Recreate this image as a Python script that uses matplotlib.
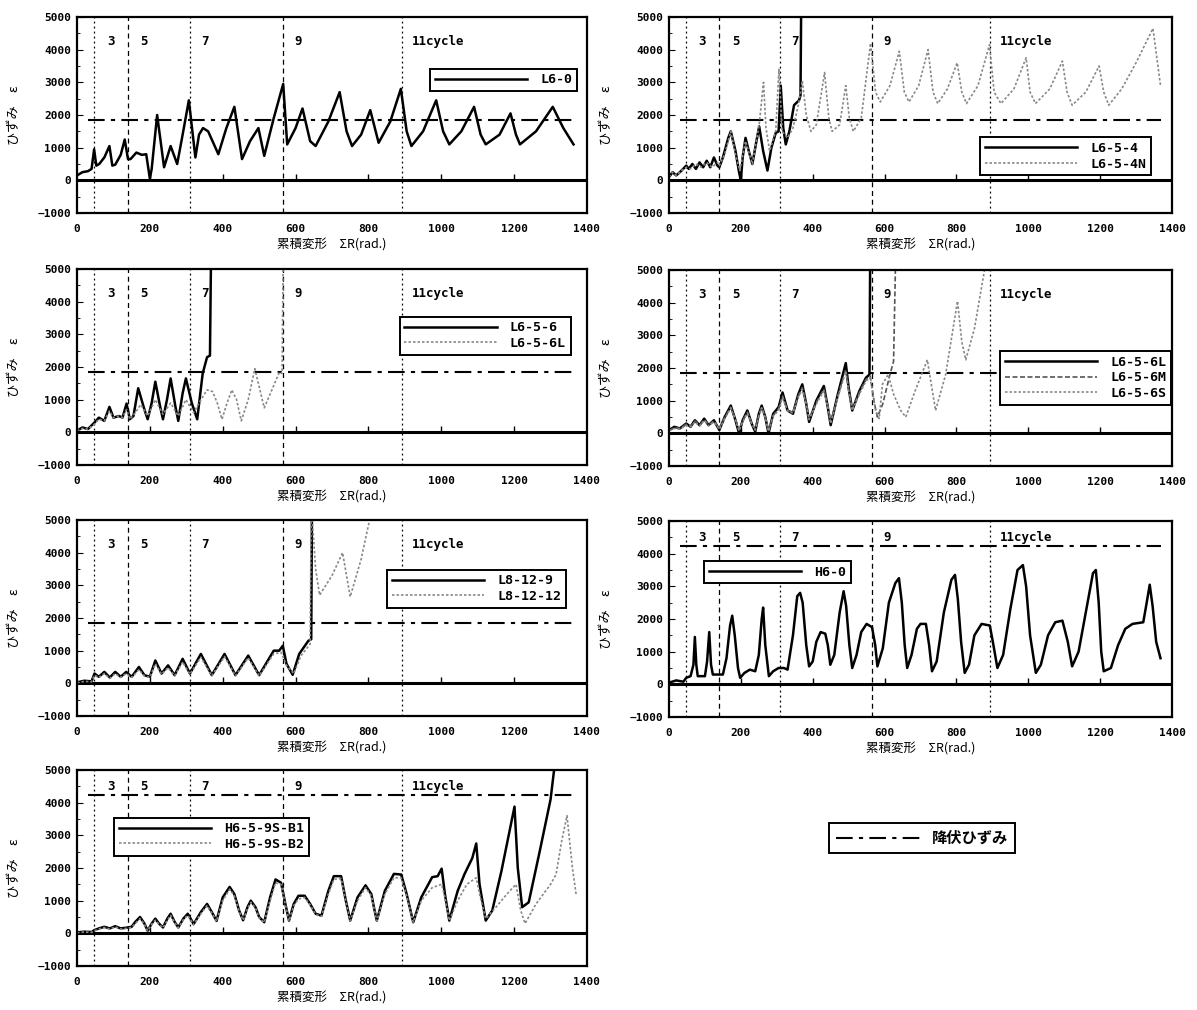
import matplotlib
matplotlib.use('Agg')
import matplotlib.pyplot as plt
from matplotlib.lines import Line2D

plt.rcParams['font.family'] = ['DejaVu Sans Mono', 'Noto Sans CJK JP']
plt.rcParams['font.weight'] = 'bold'

# cycle boundaries (cumulative deformation) and labels
cycle_bounds = [48, 140, 310, 566, 893]
cycle_labels = ['3', '5', '7', '9', '11cycle']
cycle_label_x = [92, 185, 350, 606, 920]
yield_low = 1850
yield_high = 4250

x_ticks = [0, 200, 400, 600, 800, 1000, 1200, 1400]
y_ticks = [-1000, 0, 1000, 2000, 3000, 4000, 5000]

# L6-0
l60_x = [0, 15, 30, 40, 47, 53, 61, 75, 89, 97, 105, 120, 131, 140, 147, 163, 178, 190, 200, 205,
         220, 239, 257, 275, 290, 307, 325, 335, 346, 360, 388, 410, 432, 453, 475, 498, 514, 540,
         566, 577, 600, 619, 640, 655, 690, 721, 740, 755, 780, 805, 828, 860, 889, 905, 918, 950,
         986, 1005, 1022, 1055, 1090, 1108, 1122, 1160, 1190, 1205, 1216, 1260, 1306, 1335, 1363]
l60_y = [150, 250, 280, 350, 950, 450, 500, 700, 1050, 450, 480, 780, 1250, 650, 650, 850, 780, 800, 50, 350,
         2000, 400, 1050, 500, 1400, 2450, 700, 1400, 1600, 1500, 800, 1600, 2250, 650, 1200, 1600, 750, 1900,
         2950, 1100, 1600, 2200, 1200, 1050, 1800, 2700, 1500, 1050, 1400, 2150, 1150, 1800, 2800, 1500, 1050, 1500,
         2450, 1500, 1100, 1500, 2250, 1400, 1100, 1400, 2050, 1400, 1100, 1500, 2250, 1600, 1100]

# L6-5-4 / L6-5-4N
l654_x = [0, 10, 20, 35, 48, 55, 65, 75, 85, 95, 105, 115, 125, 135, 140, 150, 165, 172, 185, 195,
          200, 205, 213, 222, 232, 245, 251, 262, 274, 285, 297, 305, 311, 318, 325, 335, 348, 362, 366, 368]
l654_y = [100, 250, 150, 300, 450, 350, 500, 350, 550, 400, 600, 400, 700, 450, 400, 700, 1300, 1500, 900, 250,
          0, 700, 1300, 900, 500, 1300, 1650, 900, 300, 1000, 1450, 1500, 2900, 1600, 1100, 1500, 2300, 2450, 2600, 5500]
l654n_x = [0, 10, 20, 35, 48, 60, 75, 90, 105, 120, 135, 140, 155, 172, 185, 197, 213, 232, 251, 263,
           270, 280, 297, 306, 315, 330, 345, 360, 371, 382, 395, 410, 433, 445, 454, 475, 492, 502, 513, 535,
           561, 575, 588, 615, 641, 655, 668, 695, 721, 735, 748, 775, 802, 815, 828, 860, 892, 905, 924, 960,
           994, 1005, 1020, 1060, 1095, 1108, 1122, 1160, 1197, 1210, 1224, 1260, 1300, 1347, 1368]
l654n_y = [100, 250, 150, 300, 400, 350, 500, 400, 550, 400, 550, 450, 800, 1500, 800, 300, 1200, 500, 1700, 3000,
           1600, 900, 1500, 3400, 1500, 1300, 1600, 2300, 3050, 2000, 1500, 1700, 3300, 1900, 1500, 1700, 2900, 1900, 1500, 1900,
           4200, 2700, 2400, 2900, 3950, 2700, 2400, 2900, 4000, 2700, 2350, 2800, 3600, 2700, 2350, 2900, 4150, 2700, 2350, 2800,
           3750, 2700, 2350, 2800, 3650, 2700, 2300, 2700, 3500, 2700, 2300, 2800, 3600, 4650, 2900]

# L6-5-6 / L6-5-6L
l656_x = [0, 15, 30, 48, 60, 75, 89, 100, 115, 125, 136, 145, 155, 168, 185, 194, 205, 215, 228, 236,
          247, 257, 270, 278, 290, 299, 315, 330, 345, 357, 365, 368]
l656_y = [50, 150, 100, 300, 450, 350, 780, 450, 500, 450, 880, 400, 500, 1350, 700, 400, 900, 1550, 800, 400,
          1000, 1650, 800, 350, 1200, 1650, 900, 400, 1800, 2300, 2350, 5500]
l656l_x = [0, 15, 30, 48, 60, 75, 89, 100, 115, 125, 136, 145, 160, 175, 194, 215, 236, 257, 278, 299,
           320, 335, 357, 372, 385, 398, 412, 425, 438, 451, 470, 488, 500, 514, 535, 556, 563, 566]
l656l_y = [50, 120, 100, 250, 400, 350, 650, 450, 500, 450, 700, 400, 600, 850, 500, 1000, 550, 900, 500, 1000,
           600, 900, 1300, 1250, 900, 400, 900, 1300, 1000, 350, 1000, 1950, 1400, 750, 1300, 1850, 1800, 5500]

# L6-5-6L / L6-5-6M / L6-5-6S
p4l_x = [0, 15, 30, 48, 60, 72, 85, 98, 110, 125, 140, 155, 172, 185, 195, 205, 218, 230, 240, 250,
         258, 268, 277, 290, 305, 316, 330, 345, 360, 371, 382, 390, 410, 431, 442, 450, 470, 492, 500, 510,
         530, 548, 558, 560]
p4l_y = [100, 200, 150, 300, 200, 400, 250, 450, 250, 400, 100, 500, 850, 400, 0, 400, 700, 300, 50, 600,
         850, 500, 0, 600, 800, 1250, 700, 600, 1200, 1500, 900, 350, 1000, 1450, 800, 250, 1200, 2150, 1400, 700,
         1300, 1700, 1800, 5500]
p4m_x = [0, 15, 30, 48, 60, 72, 85, 98, 110, 125, 140, 155, 172, 185, 195, 205, 218, 230, 240, 250,
         258, 268, 277, 290, 305, 316, 330, 345, 360, 371, 382, 390, 410, 431, 442, 450, 470, 492, 500, 510,
         530, 548, 560, 572, 580, 595, 615, 625, 631]
p4m_y = [80, 180, 150, 280, 220, 380, 250, 420, 260, 380, 150, 480, 800, 420, 100, 380, 650, 320, 120, 550,
         800, 500, 80, 550, 750, 1150, 700, 650, 1150, 1400, 900, 450, 950, 1350, 850, 350, 1150, 1950, 1350, 750,
         1250, 1650, 1750, 900, 500, 900, 1800, 2200, 5500]
p4s_x = [0, 15, 30, 48, 60, 72, 85, 98, 110, 125, 140, 155, 172, 185, 195, 205, 218, 230, 240, 250,
         258, 268, 277, 290, 305, 316, 330, 345, 360, 371, 382, 390, 410, 431, 442, 450, 470, 492, 500, 510,
         530, 548, 560, 575, 585, 594, 610, 625, 645, 659, 685, 719, 730, 742, 770, 803, 815, 826, 850, 886]
p4s_y = [80, 150, 130, 250, 200, 350, 220, 400, 230, 350, 120, 450, 780, 400, 80, 350, 620, 300, 100, 520,
         780, 480, 60, 520, 700, 1100, 680, 620, 1100, 1350, 880, 420, 900, 1300, 800, 300, 1100, 1900, 1300, 700,
         1200, 1600, 1700, 700, 450, 1500, 1800, 1200, 700, 500, 1300, 2250, 1500, 700, 1800, 4050, 2800, 2250, 3200, 5500]

# L8-12-9 / L8-12-12
l8129_x = [0, 20, 40, 48, 60, 75, 90, 105, 120, 135, 150, 170, 185, 200, 215, 232, 250, 268, 290, 310,
           340, 370, 405, 435, 470, 500, 540, 555, 565, 575, 592, 610, 635, 643, 645]
l8129_y = [30, 80, 60, 300, 200, 350, 180, 350, 200, 350, 200, 500, 250, 200, 700, 300, 550, 250, 750, 300,
           900, 250, 900, 250, 850, 250, 1000, 1000, 1150, 600, 260, 900, 1300, 1350, 5500]
l81212_x = [0, 20, 40, 48, 60, 75, 90, 105, 120, 135, 150, 170, 185, 200, 215, 232, 250, 268, 290, 310,
            340, 370, 405, 435, 470, 500, 540, 560, 575, 595, 615, 640, 643, 655, 666, 700, 729, 750, 780, 807]
l81212_y = [20, 60, 50, 250, 180, 300, 150, 300, 180, 300, 180, 420, 230, 180, 600, 280, 480, 230, 650, 280,
            800, 230, 820, 230, 780, 230, 900, 950, 550, 300, 850, 1200, 5500, 3500, 2700, 3300, 4000, 2650, 3800, 5200]

# H6-0
h60_x = [0, 20, 40, 48, 60, 68, 72, 76, 80, 100, 106, 112, 117, 122, 150, 160, 170, 176, 183, 192,
         198, 210, 225, 240, 250, 258, 262, 268, 278, 290, 305, 320, 330, 345, 357, 365, 372, 382, 390, 400,
         410, 422, 435, 442, 449, 460, 475, 486, 493, 502, 510, 522, 535, 550, 565, 574, 580, 595, 612, 630,
         640, 648, 656, 663, 675, 690, 700, 715, 724, 732, 745, 765, 786, 796, 804, 813, 823, 835, 850, 870,
         893, 903, 914, 930, 950, 970, 985, 994, 1005, 1021, 1035, 1055, 1075, 1095, 1110, 1122, 1140, 1160, 1180, 1188,
         1196, 1203, 1210, 1230, 1250, 1270, 1290, 1320, 1328, 1338, 1346, 1356, 1368]
h60_y = [50, 120, 80, 200, 250, 600, 1450, 600, 250, 250, 700, 1600, 600, 300, 300, 800, 1800, 2100, 1500, 500,
         200, 350, 450, 400, 900, 2000, 2350, 1200, 250, 400, 500, 500, 450, 1500, 2700, 2800, 2500, 1200, 550, 700,
         1300, 1600, 1550, 1200, 600, 900, 2200, 2850, 2400, 1200, 500, 900, 1600, 1850, 1750, 1200, 550, 1100, 2500, 3100,
         3250, 2500, 1200, 500, 900, 1700, 1850, 1850, 1200, 400, 700, 2200, 3200, 3350, 2600, 1300, 350, 600, 1500, 1850,
         1800, 1200, 500, 900, 2300, 3500, 3650, 3000, 1500, 350, 600, 1500, 1900, 1950, 1300, 550, 1000, 2200, 3400, 3500,
         2500, 1000, 400, 500, 1200, 1700, 1850, 1900, 2400, 3050, 2400, 1300, 800]

# H6-5-9S-B1 / H6-5-9S-B2
h659b1_x = [0, 20, 40, 48, 60, 75, 90, 105, 120, 140, 150, 160, 173, 185, 194, 205, 215, 225, 236, 248,
            257, 268, 278, 292, 304, 312, 320, 340, 357, 370, 383, 400, 419, 432, 445, 456, 468, 477, 490, 500,
            514, 530, 545, 560, 572, 582, 595, 608, 625, 640, 655, 671, 690, 705, 725, 738, 750, 770, 792, 808,
            815, 823, 845, 870, 890, 905, 923, 945, 975, 990, 1001, 1010, 1022, 1045, 1064, 1085, 1096, 1105, 1122, 1140,
            1165, 1185, 1201, 1210, 1222, 1240, 1270, 1300, 1315]
h659b1_y = [30, 50, 40, 100, 150, 200, 150, 220, 150, 180, 200, 350, 500, 300, 80, 300, 450, 300, 180, 450,
            600, 350, 180, 450, 600, 450, 280, 650, 900, 650, 380, 1100, 1420, 1200, 700, 400, 800, 1000, 800, 500,
            340, 1100, 1650, 1550, 900, 390, 900, 1150, 1150, 900, 600, 540, 1300, 1750, 1750, 1000, 390, 1100, 1470, 1200,
            800, 390, 1300, 1820, 1800, 1200, 340, 1100, 1720, 1750, 1980, 1200, 390, 1300, 1820, 2300, 2750, 1500, 390, 700,
            1900, 3000, 3880, 2000, 800, 950, 2500, 4100, 5500]
h659b2_x = [0, 20, 40, 48, 60, 75, 90, 105, 120, 140, 150, 160, 173, 185, 194, 205, 215, 225, 236, 248,
            257, 268, 278, 292, 304, 312, 320, 340, 357, 370, 383, 400, 419, 432, 445, 456, 468, 477, 490, 500,
            514, 530, 545, 560, 572, 582, 595, 608, 625, 640, 655, 671, 690, 705, 725, 738, 750, 770, 792, 808,
            815, 823, 845, 870, 890, 905, 923, 945, 975, 1001, 1010, 1022, 1045, 1070, 1096, 1105, 1122, 1150, 1180, 1205,
            1218, 1230, 1260, 1300, 1315, 1330, 1345, 1360, 1370]
h659b2_y = [20, 40, 30, 80, 130, 180, 130, 200, 130, 160, 180, 300, 450, 280, 80, 280, 400, 280, 170, 400,
            550, 330, 170, 420, 550, 420, 260, 600, 850, 620, 370, 1000, 1350, 1150, 680, 400, 750, 950, 780, 480,
            330, 1000, 1550, 1500, 880, 380, 850, 1050, 1100, 870, 580, 520, 1200, 1650, 1680, 980, 380, 1000, 1400, 1150,
            780, 380, 1200, 1700, 1700, 1150, 340, 1000, 1400, 1500, 1100, 390, 1000, 1500, 1700, 1200, 450, 800, 1200, 1500,
            700, 300, 900, 1500, 1800, 2800, 3600, 2000, 1200]

SOLID = dict(color='black', lw=1.8, ls='-')
DOTTED = dict(color='#888888', lw=1.2, ls=(0, (1.5, 1.2)))
DASHED = dict(color='#555555', lw=1.2, ls=(0, (3, 1.5)))


def setup_axes(ax, yield_y, high=False):
    """Frame, ticks, cycle markers, zero line and yield line."""
    ax.set_xlim(0, 1400)
    ax.set_ylim(-1000, 5000)
    ax.set_xticks(x_ticks)
    ax.set_yticks(y_ticks)
    ax.set_yticks(range(-500, 5000, 1000), minor=True)
    ax.tick_params(axis='y', direction='in', length=4, labelsize=8, pad=4)
    ax.tick_params(axis='y', which='minor', direction='in', length=2)
    ax.tick_params(axis='x', direction='in', length=0, labelsize=8, pad=8)
    for s in ax.spines.values():
        s.set_linewidth(1.6)
    ax.axhline(0, color='black', lw=2.2, zorder=2)
    # tick marks sit on the zero line
    ax.vlines(x_ticks[1:-1], 0, 180, color='black', lw=1.0, zorder=2)
    for i, xb in enumerate(cycle_bounds):
        ls = (0, (4, 3)) if i % 2 else (0, (1.5, 2.5))
        ax.axvline(xb, color='black', lw=0.9, ls=ls, zorder=1)
    ax.plot([30, 1370], [yield_y, yield_y], color='black', lw=1.5,
            ls=(0, (8, 3, 2, 3)), zorder=2)
    ty = 4500 if high else 4250
    for tx, lab in zip(cycle_label_x, cycle_labels):
        ax.text(tx, ty, lab, fontsize=9, fontweight='bold', ha='left' if len(lab) > 1 else 'center',
                va='center', family='DejaVu Sans Mono')
    ax.set_xlabel('累積変形　ΣR(rad.)', fontsize=9, labelpad=3,
                  family=['Noto Sans CJK JP', 'DejaVu Sans'])
    ax.set_ylabel('ひずみ　ε', fontsize=9.5, labelpad=12,
                  family=['Noto Sans CJK JP', 'DejaVu Sans'])


def add_legend(ax, anchor):
    leg = ax.legend(loc='upper left', bbox_to_anchor=anchor, frameon=True, fancybox=False,
                    edgecolor='black', framealpha=1, handlelength=7,
                    borderpad=0.35, labelspacing=0.2, handletextpad=1.0,
                    prop={'family': 'DejaVu Sans Mono', 'weight': 'bold', 'size': 9.5})
    leg.get_frame().set_linewidth(1.4)


fig = plt.figure(figsize=(11.97, 10.10), dpi=100)
W, H = 1197, 1010


def make_axes(left, top, width=510, height=196):
    return fig.add_axes([left / W, 1 - (top + height) / H, width / W, height / H])


# row 1
ax1 = make_axes(77, 17)
setup_axes(ax1, yield_low)
ax1.plot(l60_x, l60_y, label='L6-0', **SOLID)
add_legend(ax1, (0.68, 0.77))

ax2 = make_axes(669, 17, width=503)
setup_axes(ax2, yield_low)
ax2.plot(l654_x, l654_y, label='L6-5-4', **SOLID)
ax2.plot(l654n_x, l654n_y, label='L6-5-4N', **DOTTED)
add_legend(ax2, (0.605, 0.42))

# row 2
ax3 = make_axes(77, 269)
setup_axes(ax3, yield_low)
ax3.plot(l656_x, l656_y, label='L6-5-6', **SOLID)
ax3.plot(l656l_x, l656l_y, label='L6-5-6L', **DOTTED)
add_legend(ax3, (0.62, 0.79))

ax4 = make_axes(669, 270, width=503)
setup_axes(ax4, yield_low)
ax4.plot(p4l_x, p4l_y, label='L6-5-6L', **SOLID)
ax4.plot(p4m_x, p4m_y, label='L6-5-6M', **DASHED)
ax4.plot(p4s_x, p4s_y, label='L6-5-6S', **DOTTED)
add_legend(ax4, (0.645, 0.62))

# row 3
ax5 = make_axes(77, 520)
setup_axes(ax5, yield_low)
ax5.plot(l8129_x, l8129_y, label='L8-12-9', **SOLID)
ax5.plot(l81212_x, l81212_y, label='L8-12-12', **DOTTED)
add_legend(ax5, (0.595, 0.78))

ax6 = make_axes(669, 521, width=503)
setup_axes(ax6, yield_high, high=True)
ax6.plot(h60_x, h60_y, label='H6-0', **SOLID)
add_legend(ax6, (0.057, 0.83))

# row 4
ax7 = make_axes(77, 770)
setup_axes(ax7, yield_high, high=True)
ax7.plot(h659b1_x, h659b1_y, label='H6-5-9S-B1', **SOLID)
ax7.plot(h659b2_x, h659b2_y, label='H6-5-9S-B2', **DOTTED)
add_legend(ax7, (0.06, 0.79))

# shared legend for the yield strain line
yield_handle = Line2D([], [], color='black', lw=1.5, ls=(0, (8, 3, 2, 3)))
fl = fig.legend([yield_handle], ['降伏ひずみ'], loc='center', bbox_to_anchor=(922 / W, 1 - 838 / H),
                frameon=True, fancybox=False, edgecolor='black', framealpha=1, handlelength=5.5,
                borderpad=0.45, prop={'family': ['Noto Sans CJK JP', 'DejaVu Sans'], 'weight': 'bold', 'size': 11})
fl.get_frame().set_linewidth(1.4)

plt.savefig('out.png', dpi=100)
